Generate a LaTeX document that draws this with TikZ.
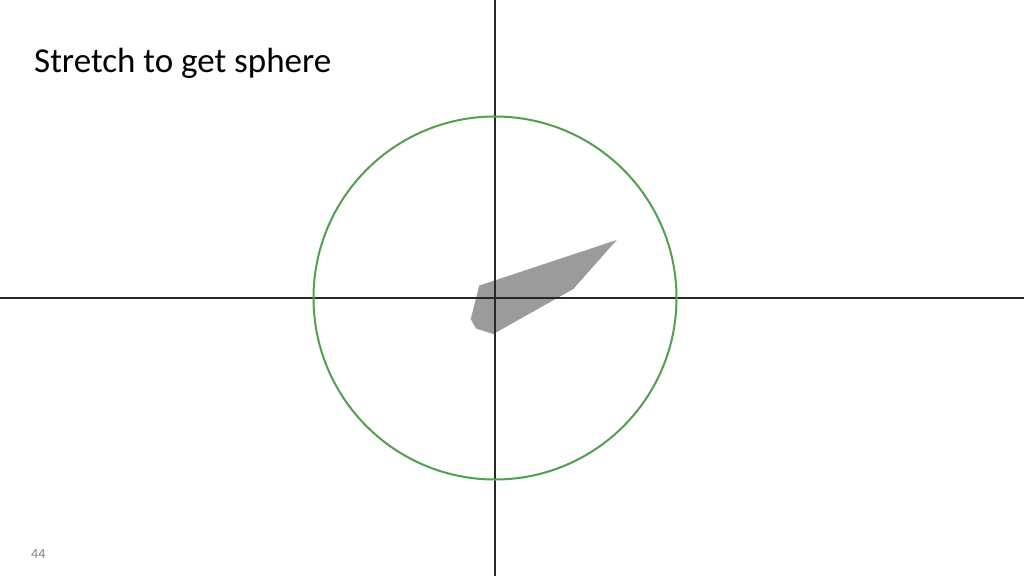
\documentclass[tikz,border=0pt]{standalone}
\usepackage{fontspec}
\setmainfont{Carlito}
\definecolor{circgreen}{RGB}{80,160,80}
\definecolor{shapegray}{RGB}{155,155,155}
\definecolor{axisgray}{RGB}{40,40,40}
\tikzset{
  axis/.style={draw=axisgray, line width=1.2pt},
  circ/.style={draw=circgreen, line width=2pt},
  blob/.style={fill=shapegray, draw=none},
}
\begin{document}
\begin{tikzpicture}[x=1pt,y=-1pt]
\useasboundingbox (0,0) rectangle (1024,576);
\fill[white] (0,0) rectangle (1024,576);
\coordinate (top) at (495,0);
\coordinate (bot) at (495,576);
\coordinate (lft) at (0,298);
\coordinate (rgt) at (1024,298);
\coordinate (o) at (495,298);
\fill[blob] (616.7,240) -- (479.3,285.5) -- (470.7,319) -- (476,328.5) -- (493.3,334) -- (573.3,289) -- cycle;
\draw[axis] (lft) -- (rgt);
\draw[axis] (top) -- (bot);
\draw[circ] (o) circle (181.5);
\node[anchor=base west, inner sep=0pt, font=\fontsize{35}{40}\selectfont] (title) at (34,72) {Stretch to get sphere};
\node[anchor=base west, inner sep=0pt, text=gray, font=\fontsize{14}{16}\selectfont] (pg) at (31,558) {44};
\end{tikzpicture}
\end{document}
